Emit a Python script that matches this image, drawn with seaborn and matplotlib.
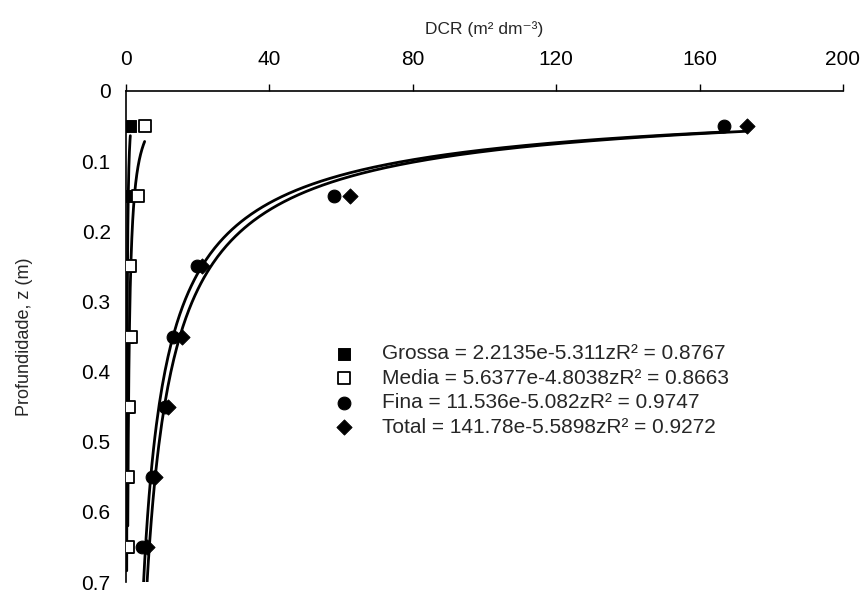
import numpy as np
import pandas as pd
import matplotlib
matplotlib.use("Agg")
import matplotlib.pyplot as plt
import seaborn as sns

sns.set_theme(style="white")
plt.rcParams['font.family'] = ['Liberation Sans', 'DejaVu Sans']

depth = [0.05, 0.15, 0.25, 0.35, 0.45, 0.55, 0.65]
grossa = [1.2, 0.5, 0.6, 0.4, 0.3, 0.2, 0.2]
media = [5.2, 3.4, 1.0, 1.4, 0.7, 0.5, 0.5]
fina = [166.8, 58.0, 19.8, 13.1, 10.8, 7.3, 4.4]
total = [173.2, 62.5, 21.2, 15.6, 11.8, 8.1, 5.8]

labels = ["Grossa = 2.2135e-5.311zR² = 0.8767",
          "Media = 5.6377e-4.8038zR² = 0.8663",
          "Fina = 11.536e-5.082zR² = 0.9747",
          "Total = 141.78e-5.5898zR² = 0.9272"]
xticks = [0, 40, 80, 120, 160, 200]
yticks = [0, 0.1, 0.2, 0.3, 0.4, 0.5, 0.6, 0.7]

fig = plt.figure(figsize=(8.62, 5.9), dpi=100)
ax = fig.add_axes([126/862, 1-582/590, 717/862, 491/590])

series = [grossa, media, fina, total]
styles = [dict(marker='s', s=70, color='black', edgecolor='black'),
          dict(marker='s', s=70, color='white', edgecolor='black', linewidth=1.3),
          dict(marker='o', s=85, color='black', edgecolor='black'),
          dict(marker='D', s=60, color='black', edgecolor='black')]

# power trendlines fitted to the data (depth = a * DCR^b)
for vals in series:
    x = np.array(vals)
    z = np.array(depth)
    b, la = np.polyfit(np.log(x), np.log(z), 1)
    xs = np.linspace(x.min(), x.max(), 400)
    zs = np.exp(la) * xs ** b
    sns.lineplot(x=xs, y=zs, ax=ax, color='black', linewidth=2.0, sort=False,
                 estimator=None, legend=False)

for vals, st, lab in zip(series, styles, labels):
    df = pd.DataFrame({"DCR": vals, "z": depth})
    sns.scatterplot(data=df, x="DCR", y="z", ax=ax, label=lab, zorder=5, **st)

ax.set_xlim(0, 200)
ax.set_ylim(0.7, 0)
ax.xaxis.tick_top()
ax.xaxis.set_label_position('top')
ax.set_xticks(xticks)
ax.set_xticklabels([str(t) for t in xticks])
ax.set_yticks(yticks)
ax.set_yticklabels(["0" if t == 0 else f"{t:.1f}" for t in yticks])
ax.tick_params(axis='both', labelsize=15, direction='out', length=5, width=1,
               color='black', labelcolor='black')
ax.tick_params(axis='x', pad=10.5)
ax.tick_params(axis='y', pad=6)
ax.set_xlabel("DCR (m² dm⁻³)", fontsize=12.5, labelpad=12)
ax.set_ylabel("Profundidade, z (m)", fontsize=13, labelpad=35)
for side in ['bottom', 'right']:
    ax.spines[side].set_visible(False)
for side in ['top', 'left']:
    ax.spines[side].set_color('black')
    ax.spines[side].set_linewidth(1.2)
ax.grid(False)

leg = ax.legend(loc='upper left', bbox_to_anchor=(334/862, 1-344/590),
                bbox_transform=fig.transFigure, frameon=False, fontsize=15,
                handlelength=1.0, handletextpad=1.3, borderpad=0,
                borderaxespad=0, labelspacing=0.27)

fig.savefig("out.png", dpi=100)
